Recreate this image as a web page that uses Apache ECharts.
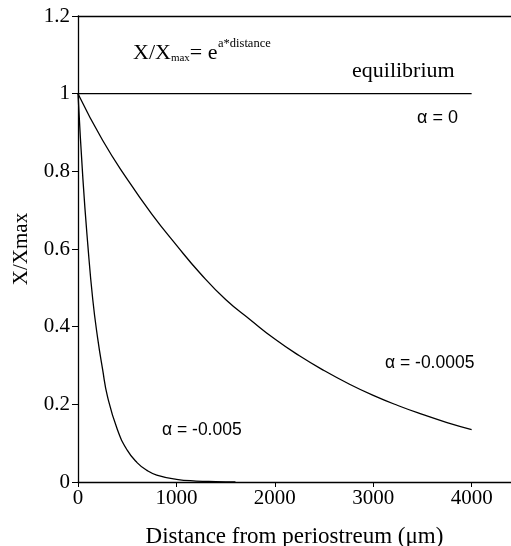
<!DOCTYPE html>
<html>
<head>
<meta charset="utf-8">
<script src="https://cdn.jsdelivr.net/npm/echarts@6/dist/echarts.min.js"></script>
<style>
  html, body { margin: 0; padding: 0; background: #fff; }
  #chart { width: 511px; height: 546px; }
</style>
</head>
<body>
<div id="chart"></div>
<script>
// values
const equilibriumX = [0, 4000];
const equilibriumY = [1, 1];

const slowX = [0, 250, 500, 750, 1000, 1250, 1500, 1750, 2000, 2250, 2500, 2750, 3000, 3250, 3500, 3750, 4000];
const slowY = [1, 0.88, 0.78, 0.69, 0.61, 0.535, 0.47, 0.418, 0.368, 0.325, 0.287, 0.253, 0.223, 0.197, 0.174, 0.153, 0.135];

const fastX = [0, 50, 100, 150, 200, 250, 300, 400, 500, 600, 700, 800, 1000, 1200, 1400, 1600];
const fastY = [1, 0.78, 0.61, 0.47, 0.37, 0.29, 0.22, 0.135, 0.082, 0.05, 0.03, 0.018, 0.007, 0.0025, 0.001, 0.0003];

const xTicks = [0, 1000, 2000, 3000, 4000];
const yTicks = [0, 0.2, 0.4, 0.6, 0.8, 1, 1.2];

const serif = "'Liberation Serif', 'DejaVu Serif', serif";
const sans = "'Liberation Sans', Arial, sans-serif";

const pair = (xs, ys) => xs.map((x, i) => [x, ys[i]]);

const chart = echarts.init(document.getElementById("chart"));

const lineStyle = { color: "#000", width: 1.3 };

const options = {
    animation: false,
    grid: { left: 78, top: 16, right: 0, bottom: 64, outerBoundsMode: "none" },
    xAxis: [
        {
            type: "value",
            min: 0,
            max: 4400,
            interval: 1000,
            name: "Distance from periostreum (\u03bcm)",
            nameLocation: "middle",
            nameGap: 43,
            nameTextStyle: { fontFamily: serif, fontSize: 23, color: "#000" },
            axisLine: { lineStyle: { color: "#000", width: 1.3 } },
            axisTick: { length: 5, lineStyle: { color: "#000" } },
            axisLabel: {
                margin: 6,
                fontFamily: serif,
                fontSize: 21,
                color: "#000",
                formatter: (v) => (xTicks.includes(v) ? String(v) : ""),
            },
            splitLine: { show: false },
        },
        {
            type: "value",
            position: "top",
            min: 0,
            max: 4400,
            axisLine: { show: true, lineStyle: { color: "#000", width: 1.3 } },
            axisTick: { show: false },
            axisLabel: { show: false },
            splitLine: { show: false },
        },
    ],
    yAxis: {
        type: "value",
        min: 0,
        max: 1.2,
        interval: 0.2,
        name: "X/Xmax",
        nameLocation: "middle",
        nameGap: 46,
        nameTextStyle: { fontFamily: serif, fontSize: 21, color: "#000" },
        axisLine: { show: true, lineStyle: { color: "#000", width: 1.3 } },
        axisTick: { show: true, length: 6, lineStyle: { color: "#000" } },
        axisLabel: {
            margin: 8,
            fontFamily: serif,
            fontSize: 21,
            color: "#000",
            formatter: (v) => {
                const t = yTicks.find((k) => Math.abs(k - v) < 1e-9);
                return t === undefined ? "" : String(t);
            },
        },
        splitLine: { show: false },
    },
    series: [
        {
            name: "equilibrium",
            type: "line",
            data: pair(equilibriumX, equilibriumY),
            showSymbol: false,
            lineStyle: lineStyle,
        },
        {
            name: "alpha -0.0005",
            type: "line",
            smooth: 0.5,
            data: pair(slowX, slowY),
            showSymbol: false,
            lineStyle: lineStyle,
        },
        {
            name: "alpha -0.005",
            type: "line",
            smooth: 0.5,
            data: pair(fastX, fastY),
            showSymbol: false,
            lineStyle: lineStyle,
        },
    ],
    graphic: [
        {
            type: "text",
            left: 133,
            top: 42,
            style: {
                text: "{b|X/X}{s|max}{b|= e}",
                rich: {
                    b: { fontFamily: serif, fontSize: 22, color: "#000", verticalAlign: "bottom", lineHeight: 30 },
                    s: { fontFamily: serif, fontSize: 11, color: "#000", verticalAlign: "bottom", lineHeight: 24 },
                },
            },
        },
        {
            type: "text",
            left: 218,
            top: 37,
            style: { text: "a*distance", fontFamily: serif, fontSize: 12.5, fill: "#000" },
        },
        {
            type: "text",
            left: 352,
            top: 60,
            style: { text: "equilibrium", fontFamily: serif, fontSize: 22, fill: "#000" },
        },
        {
            type: "text",
            left: 417,
            top: 109,
            style: { text: "\u03b1 = 0", fontFamily: sans, fontSize: 18, fill: "#000" },
        },
        {
            type: "text",
            left: 385,
            top: 354,
            style: { text: "\u03b1 = -0.0005", fontFamily: sans, fontSize: 17.5, fill: "#000" },
        },
        {
            type: "text",
            left: 162,
            top: 421,
            style: { text: "\u03b1 = -0.005", fontFamily: sans, fontSize: 17.5, fill: "#000" },
        },
    ],
};

chart.setOption(options);
</script>
</body>
</html>
